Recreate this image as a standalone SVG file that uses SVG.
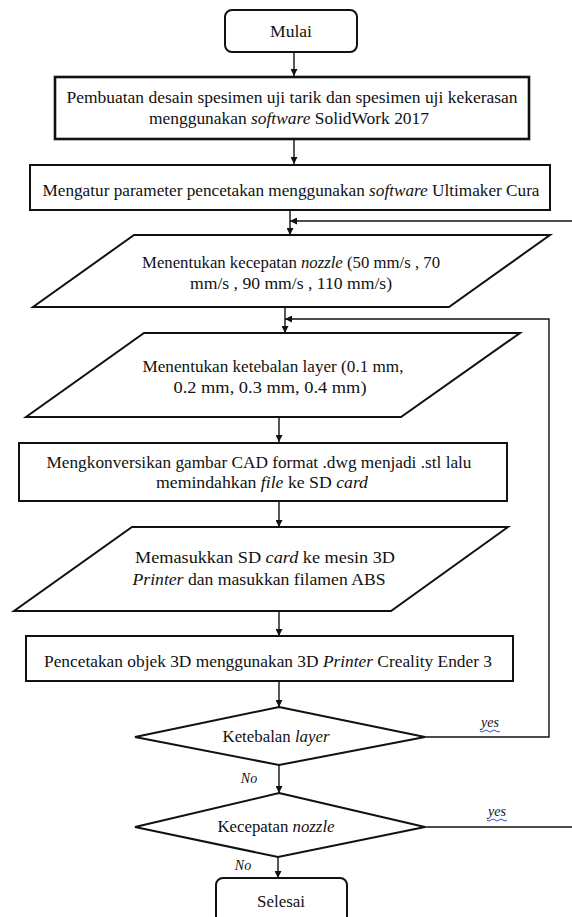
<svg xmlns="http://www.w3.org/2000/svg" width="572" height="917" viewBox="0 0 572 917" font-family="Liberation Serif, DejaVu Serif, Times New Roman, serif">
<style>
.sh{fill:#fff;stroke:#111;stroke-width:2}
.thick{stroke-width:2.6}
.c{fill:none;stroke:#111;stroke-width:1.4}
text{font-family:"Liberation Serif","DejaVu Serif","Times New Roman",serif;font-size:16px;fill:#111;text-anchor:middle}
.i{font-style:italic}
.lbl{font-style:italic;font-size:14px}
.sq{fill:none;stroke:#3050e0;stroke-width:1}
</style>
<defs>
<marker id="ah" viewBox="0 0 10 10" refX="10" refY="5" markerWidth="7" markerHeight="7" markerUnits="userSpaceOnUse" orient="auto">
<path d="M0,0 L10,5 L0,10 z" fill="#111"/>
</marker>
</defs>
<rect width="572" height="917" fill="#fff"/>
<g id="connectors">
<path class="c" d="M294,52 V76" marker-end="url(#ah)"/>
<path class="c" d="M294,139 V164" marker-end="url(#ah)"/>
<path class="c" d="M290,209 V235" marker-end="url(#ah)"/>
<path class="c" d="M572,221 H290" marker-end="url(#ah)"/>
<path class="c" d="M285,307 V333" marker-end="url(#ah)"/>
<path class="c" d="M425,737 H549 V319 H285" marker-end="url(#ah)"/>
<path class="c" d="M279,417 V442" marker-end="url(#ah)"/>
<path class="c" d="M279,501 V527" marker-end="url(#ah)"/>
<path class="c" d="M279,611 V636" marker-end="url(#ah)"/>
<path class="c" d="M279,681 V707" marker-end="url(#ah)"/>
<path class="c" d="M279,765 V793" marker-end="url(#ah)"/>
<path class="c" d="M425,827 H572"/>
<path class="c" d="M278,857 V878" marker-end="url(#ah)"/>
<text class="lbl" x="249" y="783">No</text>
<text class="lbl" x="243" y="870">No</text>
<text class="lbl" x="490" y="727">yes</text>
<path class="sq" d="M480,731 q2,2 4,0 t4,0 t4,0 t4,0 t4,0"/>
<text class="lbl" x="497" y="816">yes</text>
<path class="sq" d="M487,820 q2,2 4,0 t4,0 t4,0 t4,0 t4,0"/>
</g>
<g id="mulai">
<rect class="sh" x="225" y="10" width="132" height="42" rx="7"/>
<text x="291" y="37" textLength="42" lengthAdjust="spacingAndGlyphs">Mulai</text>
</g>
<g id="desain">
<rect class="sh thick" x="55" y="77" width="474" height="62"/>
<text x="292" y="103" textLength="451" lengthAdjust="spacingAndGlyphs">Pembuatan desain spesimen uji tarik dan spesimen uji kekerasan</text>
<text x="289" y="124" textLength="280" lengthAdjust="spacingAndGlyphs">menggunakan <tspan class="i">software</tspan> SolidWork 2017</text>
</g>
<g id="parameter">
<rect class="sh" x="30" y="165" width="520" height="45"/>
<text x="291" y="196" textLength="497" lengthAdjust="spacingAndGlyphs">Mengatur parameter pencetakan menggunakan <tspan class="i">software</tspan> Ultimaker Cura</text>
</g>
<g id="kecepatan">
<polygon class="sh" points="134,235 550,235 449,307 33,307"/>
<text x="291" y="268" textLength="298" lengthAdjust="spacingAndGlyphs">Menentukan kecepatan <tspan class="i">nozzle</tspan> (50 mm/s , 70</text>
<text x="291" y="289" textLength="202" lengthAdjust="spacingAndGlyphs">mm/s , 90 mm/s , 110 mm/s)</text>
</g>
<g id="ketebalan">
<polygon class="sh" points="144,333 520,333 401,417 26,417"/>
<text x="273" y="372" textLength="261" lengthAdjust="spacingAndGlyphs">Menentukan ketebalan layer (0.1 mm,</text>
<text x="270" y="393" textLength="193" lengthAdjust="spacingAndGlyphs">0.2 mm, 0.3 mm, 0.4 mm)</text>
</g>
<g id="konversi">
<rect class="sh" x="19" y="443" width="488" height="58"/>
<text x="259" y="468" textLength="425" lengthAdjust="spacingAndGlyphs">Mengkonversikan gambar CAD format .dwg menjadi .stl lalu</text>
<text x="262" y="488" textLength="212" lengthAdjust="spacingAndGlyphs">memindahkan <tspan class="i">file</tspan> ke SD <tspan class="i">card</tspan></text>
</g>
<g id="masukkan">
<polygon class="sh" points="132,527 508,527 391,611 14,611"/>
<text x="265" y="563" textLength="260" lengthAdjust="spacingAndGlyphs">Memasukkan SD <tspan class="i">card</tspan> ke mesin 3D</text>
<text x="259" y="585" textLength="253" lengthAdjust="spacingAndGlyphs"><tspan class="i">Printer</tspan> dan masukkan filamen ABS</text>
</g>
<g id="pencetakan">
<rect class="sh" x="26" y="636" width="487" height="45"/>
<text x="268" y="667" textLength="448" lengthAdjust="spacingAndGlyphs">Pencetakan objek 3D menggunakan 3D <tspan class="i">Printer</tspan> Creality Ender 3</text>
</g>
<g id="cek-layer">
<polygon class="sh" points="279,707 425,737 279,765 135,737"/>
<text x="276" y="742" textLength="107" lengthAdjust="spacingAndGlyphs">Ketebalan <tspan class="i">layer</tspan></text>
</g>
<g id="cek-nozzle">
<polygon class="sh" points="279,793 425,827 278,857 135,827"/>
<text x="276" y="832" textLength="117" lengthAdjust="spacingAndGlyphs">Kecepatan <tspan class="i">nozzle</tspan></text>
</g>
<g id="selesai">
<rect class="sh" x="216" y="878" width="131" height="46" rx="7"/>
<text x="281" y="907" textLength="48" lengthAdjust="spacingAndGlyphs">Selesai</text>
</g>
</svg>
